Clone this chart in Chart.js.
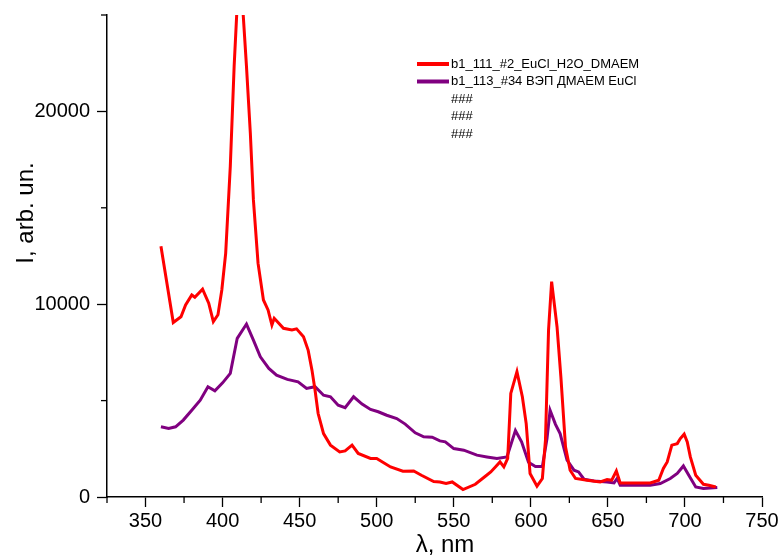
<!DOCTYPE html>
<html lang="en">
<head>
    <meta charset="UTF-8">
    <title>Spectra</title>
    <script src="https://cdn.jsdelivr.net/npm/chart.js"></script>
    <style>
        body {
            margin: 0;
            background: white;
        }
    </style>
</head>
<body>
    <canvas id="spectraChart" width="780" height="559"></canvas>
    <script>
        // b1_111_#2_EuCl_H2O_DMAEM
        let redX = [360, 368, 373, 376, 380, 382, 387, 391, 394, 397, 399.5, 402, 405, 407.5, 411, 415.5, 418, 420, 423, 426.5,
            429.5, 432, 433.5, 439.5, 445, 448, 452.5, 455.5, 458, 460, 462, 465.5, 470, 476, 479.5, 484, 488, 496, 500, 509,
            517, 524, 529, 537, 541, 545, 549, 556, 564, 570.5, 574, 577, 580, 582.5, 585, 587, 591, 594.5, 597, 599.5,
            604, 607.5, 609.5, 611.5, 613.5, 617, 619.5, 622.5, 625.5, 629, 636.5, 645, 649.5, 652.5, 655.5, 658, 667, 677.5, 683, 686,
            688.5, 691.5, 695, 697, 699.5, 701.5, 703.5, 707, 712, 715.5, 720];
        let redY = [13000, 9050, 9350, 9960, 10480, 10360, 10780, 10050, 9100, 9450, 10740, 12640, 17150, 22340, 28000, 22340, 18880, 15410, 12130, 10220,
            9700, 8920, 9270, 8750, 8660, 8720, 8310, 7620, 6580, 5540, 4330, 3290, 2690, 2340, 2390, 2690, 2260, 2000, 2000, 1560,
            1340, 1350, 1130, 800, 780, 700, 780, 384, 660, 1075, 1300, 1560, 1820, 1560, 2000, 5370, 6500, 5200, 3810, 1220,
            560, 960, 2950, 8660, 11170, 8830, 6230, 2600, 1390, 960, 870, 780, 900, 870, 1350, 730, 730, 730, 870, 1480,
            1820, 2690, 2770, 3030, 3260, 2860, 2080, 1130, 660, 610, 520];

        // b1_113_#34 ВЭП ДМАЕМ EuCl
        let purpleX = [360, 365, 369.5, 374.5, 380, 385.5, 390.5, 395, 400, 405, 409.5, 415.5, 420, 424.5, 430, 435, 442, 449, 454.5, 460,
            465.5, 470, 475, 479.5, 485, 490.5, 496, 501, 506.5, 513, 518.5, 525, 530.5, 536, 541, 544.5, 550, 556.5, 565, 571.5,
            578, 584.5, 590, 594, 598.5, 603, 607.5, 610.5, 612.5, 616, 619, 623.5, 628, 631, 634.5, 641, 649.5, 654, 656, 658,
            667, 677.5, 684, 690.5, 695, 699, 702.5, 707, 712, 721];
        let purpleY = [3640, 3550, 3640, 3990, 4500, 5020, 5720, 5510, 5920, 6410, 8230, 8970, 8140, 7270, 6670, 6320, 6100, 5970, 5630, 5720,
            5280, 5200, 4760, 4630, 5200, 4820, 4540, 4420, 4240, 4070, 3780, 3330, 3120, 3100, 2910, 2860, 2510, 2430, 2170, 2080,
            2000, 2080, 3450, 2860, 1800, 1580, 1580, 3030, 4500, 3770, 3290, 1910, 1390, 1300, 920, 830, 780, 730, 960, 610,
            610, 610, 700, 960, 1220, 1610, 1130, 520, 440, 490];

        let xMajor = [350, 400, 450, 500, 550, 600, 650, 700, 750];
        let xMinor = [325, 375, 425, 475, 525, 575, 625, 675, 725];
        let yMajor = [0, 10000, 20000];
        let yMinor = [5000, 15000, 25000];
        let extraLegend = ["###", "###", "###"];

        function toPoints(xs, ys) {
            return xs.map((x, i) => ({ x: x, y: ys[i] }));
        }

        let font = "'Liberation Sans', Arial, sans-serif";

        // minor ticks, axis titles and the Origin-style legend
        let decorPlugin = {
            id: "decor",
            afterDraw(chart) {
                let ctx = chart.ctx;
                let xs = chart.scales.x;
                let ys = chart.scales.y;
                let area = chart.chartArea;
                ctx.save();
                ctx.strokeStyle = "#000";
                ctx.lineWidth = 1.3;
                xMinor.forEach(v => {
                    let px = xs.getPixelForValue(v);
                    ctx.beginPath();
                    ctx.moveTo(px, area.bottom);
                    ctx.lineTo(px, area.bottom + 6);
                    ctx.stroke();
                });
                yMinor.forEach(v => {
                    let py = ys.getPixelForValue(v);
                    ctx.beginPath();
                    ctx.moveTo(area.left, py);
                    ctx.lineTo(area.left - 6, py);
                    ctx.stroke();
                });

                ctx.fillStyle = "#000";
                ctx.font = "24px " + font;
                ctx.textAlign = "center";
                ctx.textBaseline = "middle";
                ctx.fillText("\u03bb, nm", 445, 545);
                ctx.translate(26, 213);
                ctx.rotate(-Math.PI / 2);
                ctx.fillText("I, arb. un.", 0, 0);
                ctx.restore();

                ctx.save();
                ctx.font = "13px " + font;
                ctx.textAlign = "left";
                ctx.textBaseline = "middle";
                ctx.fillStyle = "#000";
                let rowY = 64;
                chart.data.datasets.forEach(ds => {
                    ctx.strokeStyle = ds.borderColor;
                    ctx.lineWidth = 4;
                    ctx.beginPath();
                    ctx.moveTo(417, rowY);
                    ctx.lineTo(449, rowY);
                    ctx.stroke();
                    ctx.fillText(ds.label, 451, rowY);
                    rowY += 17.5;
                });
                extraLegend.forEach(t => {
                    ctx.fillText(t, 451, rowY);
                    rowY += 17.5;
                });
                ctx.restore();
            }
        };

        let ctx = document.getElementById("spectraChart").getContext("2d");
        let spectraChart = new Chart(ctx, {
            type: "line",
            data: {
                datasets: [{
                    label: "b1_111_#2_EuCl_H2O_DMAEM",
                    data: toPoints(redX, redY),
                    borderColor: "#ff0000",
                    borderWidth: 3,
                    pointRadius: 0,
                    tension: 0
                }, {
                    label: "b1_113_#34 ВЭП ДМАЕМ EuCl",
                    data: toPoints(purpleX, purpleY),
                    borderColor: "#800080",
                    borderWidth: 3,
                    pointRadius: 0,
                    tension: 0
                }]
            },
            options: {
                responsive: false,
                animation: false,
                layout: {
                    padding: { left: 0, top: 15, right: 18, bottom: 0 }
                },
                plugins: {
                    legend: { display: false },
                    tooltip: { enabled: false }
                },
                scales: {
                    x: {
                        type: "linear",
                        min: 325,
                        max: 750,
                        afterBuildTicks: s => { s.ticks = xMajor.map(v => ({ value: v })); },
                        afterFit: s => { s.height = 62; s.paddingLeft = 0; s.paddingRight = 0; },
                        grid: { drawOnChartArea: false, tickLength: 10, tickColor: "#000", tickWidth: 1.3 },
                        border: { color: "#000", width: 1.5 },
                        ticks: { color: "#000", padding: 2, maxRotation: 0, font: { family: font, size: 20 } }
                    },
                    y: {
                        min: 0,
                        max: 25000,
                        afterBuildTicks: s => { s.ticks = yMajor.map(v => ({ value: v })); },
                        afterFit: s => { s.width = 107; s.paddingTop = 0; s.paddingBottom = 0; },
                        grid: { drawOnChartArea: false, tickLength: 10, tickColor: "#000", tickWidth: 1.3 },
                        border: { color: "#000", width: 1.5 },
                        ticks: { color: "#000", padding: 7, callback: v => String(v), font: { family: font, size: 20 } }
                    }
                }
            },
            plugins: [decorPlugin]
        });
    </script>
</body>
</html>
